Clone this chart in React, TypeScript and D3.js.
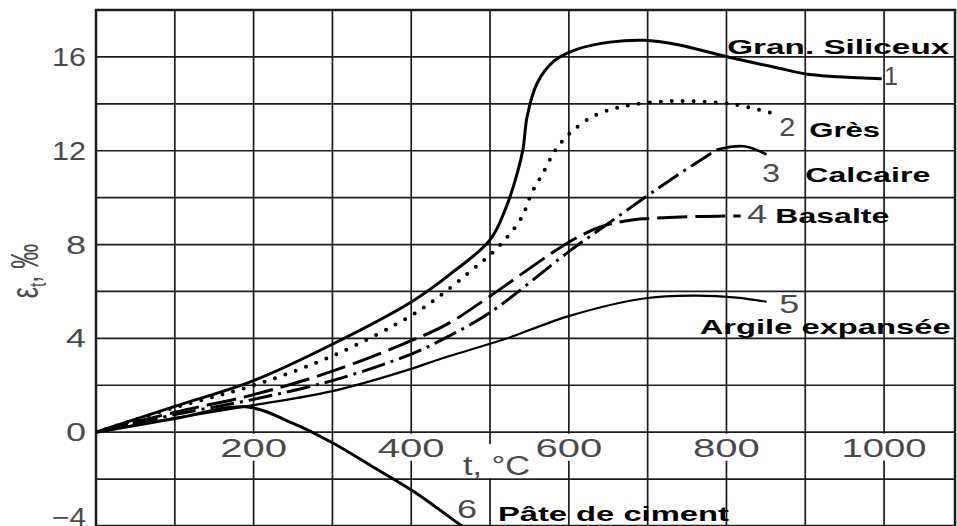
import React from 'react';
import * as d3 from 'd3';

const W = 957;
const H = 526;

// Thermal strain εt (‰) of concretes against temperature t (°C), as [t, εt] pairs
const granSiliceux: [number, number][] = [
  [0, 0], [100, 1.1], [200, 2.2], [300, 3.75], [400, 5.55], [450, 6.75],
  [500, 8.2], [520, 9.55], [535, 11.1], [542, 12.1], [547, 13.45], [560, 14.9],
  [581, 15.82], [610, 16.32], [652, 16.63], [695, 16.71], [737, 16.53], [798, 16.03],
  [864, 15.54], [906, 15.25], [997, 15.07],
];
const gres: [number, number][] = [
  [0, 0], [100, 1.05], [200, 2.0], [300, 3.25], [400, 4.97], [440, 5.9], [480, 7.0],
  [500, 7.55], [520, 8.25], [540, 9.15], [553, 10.2], [568, 11.1], [581, 11.92],
  [589, 12.3], [603, 12.8], [631, 13.47], [670, 13.9], [720, 14.1], [763, 14.1],
  [811, 13.97], [858, 13.6],
];
const calcaire: [number, number][] = [
  [0, 0], [100, 0.75], [200, 1.4], [300, 2.2], [400, 3.33], [448, 4.1], [500, 5.1],
  [600, 7.7], [640, 8.66], [695, 9.97], [733, 10.85], [788, 12.05],
];
const calcaireEnd: [number, number][] = [
  [788, 12.05], [822, 12.19], [851, 11.84],
];
const basalte: [number, number][] = [
  [0, 0], [100, 0.85], [200, 1.6], [300, 2.6], [400, 3.9], [448, 4.65], [500, 5.8],
  [600, 8.1], [640, 8.75], [680, 9.05], [720, 9.14], [770, 9.2], [818, 9.22],
];
const argile: [number, number][] = [
  [0, 0], [100, 0.6], [200, 1.15], [300, 1.75], [400, 2.7], [432, 3.07], [500, 3.77],
  [525, 4.04], [600, 4.95], [695, 5.7], [758, 5.82], [813, 5.74], [851, 5.56],
];
const pateCiment: [number, number][] = [
  [0, 0], [100, 0.58], [190, 1.08], [250, 0.38], [300, -0.45], [350, -1.45],
  [405, -2.57], [458, -3.85], [475, -4.25],
];

const xTicks = [200, 400, 600, 800, 1000];
const yTicks = [-4, 0, 4, 8, 12, 16];
const xGrid = [100, 200, 300, 400, 500, 600, 700, 800, 900, 1000];
const yGrid = [-2, 0, 2, 4, 6, 8, 10, 12, 14, 16];

// Curve numbers and material names, anchored in data coordinates
const curveNumbers = [
  { text: '1', t: 1000, v: 14.8, w: 14 },
  { text: '2', t: 867, v: 12.62, w: 16 },
  { text: '3', t: 845, v: 10.67, w: 18 },
  { text: '4', t: 826, v: 8.92, w: 20 },
  { text: '5', t: 867, v: 5.1, w: 20 },
  { text: '6', t: 458, v: -3.66, w: 20 },
];
const materialNames = [
  { text: 'Gran. Siliceux', t: 801, v: 16.13, w: 222 },
  { text: 'Grès', t: 905, v: 12.6, w: 71 },
  { text: 'Calcaire', t: 900, v: 10.67, w: 125 },
  { text: 'Basalte', t: 862, v: 8.92, w: 114 },
  { text: 'Argile expansée', t: 766, v: 4.2, w: 251 },
  { text: 'Pâte de ciment', t: 510, v: -3.79, w: 231 },
];

export default function App() {
  const x = d3.scaleLinear().domain([0, 1090]).range([96, 955]);
  const y = d3.scaleLinear().domain([-4, 18]).range([526, 10]);

  const line = d3
    .line<[number, number]>()
    .x((d) => x(d[0]))
    .y((d) => y(d[1]))
    .curve(d3.curveCatmullRom.alpha(0.5));

  const gridColor = '#1c1c1c';
  const tickColor = '#4a4a4a';
  const tickFont = "'Liberation Sans', Arial, sans-serif";
  const boldFont = "'Liberation Sans', Arial, sans-serif";

  const x0 = x(0);
  const x1 = x(1090);
  const yTop = y(18);
  const yBot = y(-4);

  const tickW = (s: string) => s.length * 22.3 - (s.startsWith('1') ? 4 : 0);

  return (
    <svg
      width={W}
      height={H}
      style={{ position: 'absolute', left: 0, top: 0, background: '#fff' }}
    >
      <defs>
        <clipPath id="plotArea">
          <rect x={x0} y={yTop} width={x1 - x0} height={yBot - yTop} />
        </clipPath>
      </defs>
      <rect x={0} y={0} width={W} height={H} fill="#fff" />

      {/* grid */}
      {xGrid.map((t) => (
        <line key={'gx' + t} x1={x(t)} x2={x(t)} y1={yTop} y2={yBot} stroke={gridColor} strokeWidth={1.7} />
      ))}
      {yGrid.map((v) => (
        <line key={'gy' + v} x1={x0} x2={x1} y1={y(v)} y2={y(v)} stroke={gridColor} strokeWidth={1.7} />
      ))}
      <rect x={x0} y={yTop} width={x1 - x0} height={yBot - yTop} fill="none" stroke={gridColor} strokeWidth={2.5} />

      {/* x tick labels sit on white patches that interrupt the grid */}
      {xTicks.map((t) => {
        const s = String(t);
        const w = tickW(s);
        return (
          <g key={'xt' + t}>
            <rect x={x(t) - w / 2 - 3} y={y(0) + 1.5} width={w + 6} height={27} fill="#fff" />
            <text
              x={x(t) - w / 2}
              y={y(0) + 25}
              textLength={w}
              lengthAdjust="spacingAndGlyphs"
              fontFamily={tickFont}
              fontSize={25}
              fill={tickColor}
            >
              {s}
            </text>
          </g>
        );
      })}
      <rect x={458} y={y(0) + 12} width={78} height={y(-2) - y(0) - 13} fill="#fff" />
      <text
        x={463}
        y={y(-2) - 4}
        textLength={67}
        lengthAdjust="spacingAndGlyphs"
        fontFamily={tickFont}
        fontSize={27}
        fill={tickColor}
      >
        t, °C
      </text>

      {/* y tick labels */}
      {yTicks.map((v) => {
        const s = v < 0 ? '−' + Math.abs(v) : String(v);
        const w = s.length === 1 ? 20 : 34;
        return (
          <text
            key={'yt' + v}
            x={86 - w}
            y={Math.min(y(v), H - 9)}
            dy="0.36em"
            textLength={w}
            lengthAdjust="spacingAndGlyphs"
            fontFamily={tickFont}
            fontSize={25}
            fill={tickColor}
          >
            {s}
          </text>
        );
      })}

      {/* y axis title */}
      <text
        transform="translate(38,271) scale(1.55,1) rotate(-90)"
        textAnchor="middle"
        fontFamily={tickFont}
        fontSize={25}
        fill={tickColor}
      >
        ε<tspan fontSize={16} dy={5}>t</tspan>
        <tspan dy={-5}>, ‰</tspan>
      </text>

      {/* curves */}
      <g clipPath="url(#plotArea)" fill="none" stroke="#000">
        <path d={line(granSiliceux) ?? ''} strokeWidth={3} />
        <path d={line(gres) ?? ''} strokeWidth={4} strokeDasharray="0 11" strokeLinecap="round" />
        <path d={line(calcaire) ?? ''} strokeWidth={3} strokeDasharray="24 6 3 6" />
        <path d={line(calcaireEnd) ?? ''} strokeWidth={2.6} />
        <path d={line(basalte) ?? ''} strokeWidth={3} strokeDasharray="30 8" />
        <path d={line(argile) ?? ''} strokeWidth={2.2} />
        <path d={line(pateCiment) ?? ''} strokeWidth={3} />
      </g>

      {/* curve numbers */}
      {curveNumbers.map((c) => (
        <text
          key={'n' + c.text}
          x={x(c.t)}
          y={y(c.v)}
          textLength={c.w}
          lengthAdjust="spacingAndGlyphs"
          fontFamily={tickFont}
          fontSize={25}
          fill={tickColor}
        >
          {c.text}
        </text>
      ))}

      {/* material names */}
      {materialNames.map((m) => (
        <text
          key={'m' + m.text}
          x={x(m.t)}
          y={y(m.v)}
          textLength={m.w}
          lengthAdjust="spacingAndGlyphs"
          fontFamily={boldFont}
          fontWeight="bold"
          fontSize={21}
          fill="#000"
        >
          {m.text}
        </text>
      ))}
    </svg>
  );
}
